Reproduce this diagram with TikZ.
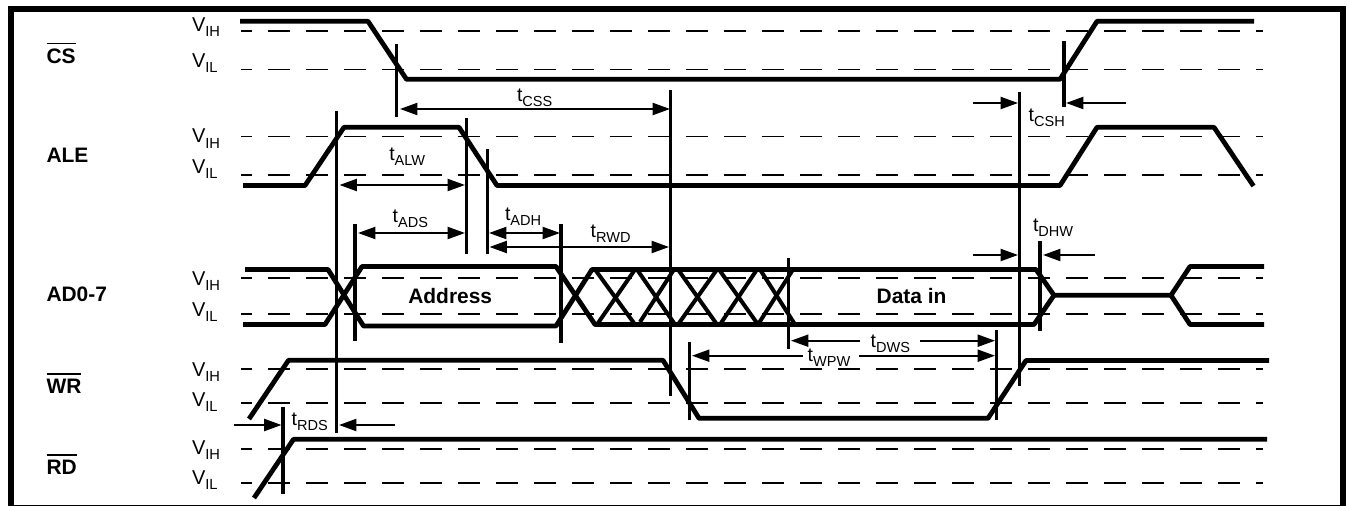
\documentclass[tikz,border=0pt]{standalone}
\usepackage{fontspec}
\setmainfont{Liberation Sans}
\usetikzlibrary{arrows.meta}
\newcommand{\VV}[1]{{\fontsize{15pt}{16pt}\selectfont V\raisebox{-3.75pt}{\fontsize{11pt}{12pt}\selectfont #1}}}
\newcommand{\TT}[1]{{\fontsize{14.6pt}{16pt}\selectfont t\raisebox{-3.75pt}{\fontsize{10.9pt}{12pt}\selectfont #1}}}
\newcommand{\BB}[1]{{\fontsize{15.7pt}{17pt}\selectfont\bfseries #1}}
\newcommand{\OB}[1]{{\fontsize{15.7pt}{17pt}\selectfont\bfseries\setbox0=\hbox{#1}\rlap{\raisebox{14.1pt}{\rule{\wd0}{1.1pt}}}\box0}}
\tikzset{
  sigline/.style={line width=3.6pt,line join=round},
  hatchline/.style={line width=3pt},
  refdash/.style={line width=0.95pt,dash pattern=on 16.5pt off 12pt,dash phase=8.25pt},
  tick/.style={line width=2.4pt},
  framebar/.style={fill=black,draw=none},
  dimarrow/.style={line width=1.5pt,-{Stealth[length=13pt,width=9pt,inset=0pt]}},
  dimboth/.style={line width=1.5pt,{Stealth[length=13pt,width=9pt,inset=0pt]}-{Stealth[length=13pt,width=9pt,inset=0pt]}},
  lbl/.style={anchor=base west,inner sep=0pt,outer sep=0pt},
}
\begin{document}
\begin{tikzpicture}[x=0.75pt,y=-0.75pt]
\useasboundingbox (0,0) rectangle (1348,506);
% frame
\fill[framebar] (8,6) rectangle (1346,12);
\fill[framebar] (8,6) rectangle (14,506);
\fill[framebar] (1340,6) rectangle (1346,506);
\draw[line width=0.8pt] (8,505.4) -- (1346,505.4);
% reference levels
\foreach \yy in {31,69.5,136.5,175,278,314,369,403,449,483}
  \draw[refdash] (241,\yy) -- (1263,\yy);
% signals
\draw[sigline] (240,21.3) -- (368,21.3) -- (406.5,79.3) -- (1060,79.3) -- (1097,21.3) -- (1254,21.3);
\draw[sigline] (243,185.5) -- (305,185.5) -- (344,127.3) -- (459,127.3) -- (497,185.5) -- (1060,185.5) -- (1097,127.3) -- (1214,127.3) -- (1253.5,186);
\draw[sigline] (245,269.5) -- (328,269.5) -- (363.5,326) -- (556,326) -- (592,269.5) -- (1036,269.5) -- (1054,295.3) -- (1171,295.3) -- (1190,266.5) -- (1264,266.5);
\draw[sigline] (243,324.5) -- (325,324.5) -- (362,266.5) -- (556,266.5) -- (595,324.5) -- (1034,324.5) -- (1054,295.3);
\draw[sigline] (1171,295.3) -- (1190,324.5) -- (1264,324.5);
\draw[sigline] (249,419) -- (288.5,360.3) -- (663,360.3) -- (699,418.3) -- (988,418.3) -- (1026,360.5) -- (1269,360.5);
\draw[sigline] (254,498) -- (293.5,439.3) -- (1267,439.3);
% undefined-data hatching
\draw[hatchline] (595,269.5) -- (635,324.5);
\draw[hatchline] (597,324.5) -- (635,269.5);
\draw[hatchline] (637,269.5) -- (675,324.5);
\draw[hatchline] (640,322) -- (674,269.5);
\draw[hatchline] (678,269.5) -- (717,324.5);
\draw[hatchline] (678,324.5) -- (717,269.5);
\draw[hatchline] (719,269.5) -- (758,324.5);
\draw[hatchline] (720,324.5) -- (757,269.5);
\draw[hatchline] (760,269.5) -- (795,324.5);
\draw[hatchline] (758,324.5) -- (793,269.5);
% timing reference ticks
\foreach \nm/\xx/\ya/\yb in {a/283/407/494,b/336.5/111/433,c/355/224/341,d/396.5/44/117,e/466.5/118/254,f/487.5/149/254,g/561/224/343,h/670.5/90/396,i/689.5/342/420,j/788.5/258/349,k/996.5/330/420,l/1019.5/92/386,m/1040/241/331,n/1064/41/107}{
  \coordinate (tick\nm top) at (\xx,\ya);
  \coordinate (tick\nm bot) at (\xx,\yb);
  \draw[tick] (tick\nm top) -- (tick\nm bot);
}
% dimension arrow ends
\coordinate (cssA) at (400,109);   \coordinate (cssB) at (670,109);
\coordinate (alwA) at (339.5,185); \coordinate (alwB) at (465,185);
\coordinate (adsA) at (358,233);   \coordinate (adsB) at (465,233);
\coordinate (adhA) at (489,233);   \coordinate (adhB) at (560,233);
\coordinate (rwdA) at (489.5,247); \coordinate (rwdB) at (669,247);
\coordinate (cshA) at (973,103);   \coordinate (cshB) at (1018,103);
\coordinate (cshC) at (1126,103);  \coordinate (cshD) at (1066,103);
\coordinate (dhwA) at (973,255);   \coordinate (dhwB) at (1018,255);
\coordinate (dhwC) at (1095,255);  \coordinate (dhwD) at (1043,255);
\coordinate (dwsA) at (860,340.7); \coordinate (dwsB) at (791,340.7);
\coordinate (dwsC) at (920,340.7); \coordinate (dwsD) at (995,340.7);
\coordinate (wpwA) at (803,355.7); \coordinate (wpwB) at (692,355.7);
\coordinate (wpwC) at (859,355.7); \coordinate (wpwD) at (995,355.7);
\coordinate (rdsA) at (234,425);   \coordinate (rdsB) at (281.5,425);
\coordinate (rdsC) at (395,425);   \coordinate (rdsD) at (339,425);
\draw[dimboth] (cssA) -- (cssB);
\draw[dimboth] (alwA) -- (alwB);
\draw[dimboth] (adsA) -- (adsB);
\draw[dimboth] (adhA) -- (adhB);
\draw[dimboth] (rwdA) -- (rwdB);
\draw[dimarrow] (cshA) -- (cshB);
\draw[dimarrow] (cshC) -- (cshD);
\draw[dimarrow] (dhwA) -- (dhwB);
\draw[dimarrow] (dhwC) -- (dhwD);
\draw[dimarrow] (dwsA) -- (dwsB);
\draw[dimarrow] (dwsC) -- (dwsD);
\draw[dimarrow] (wpwA) -- (wpwB);
\draw[dimarrow] (wpwC) -- (wpwD);
\draw[dimarrow] (rdsA) -- (rdsB);
\draw[dimarrow] (rdsC) -- (rdsD);
% signal names
\node[lbl] (nCS) at (46.5,63.3) {\OB{CS}};
\node[lbl] (nALE) at (46.5,162.7) {\BB{ALE}};
\node[lbl] (nAD) at (46.5,301) {\BB{AD0-7}};
\node[lbl] (nWR) at (46.5,393.3) {\OB{WR}};
\node[lbl] (nRD) at (46.5,474.3) {\OB{RD}};
% levels
\node[lbl] (v1) at (192,31.7) {\VV{IH}};
\node[lbl] (v2) at (192,67.7) {\VV{IL}};
\node[lbl] (v3) at (192,143) {\VV{IH}};
\node[lbl] (v4) at (192,173.5) {\VV{IL}};
\node[lbl] (v5) at (192,285.7) {\VV{IH}};
\node[lbl] (v6) at (192,316.7) {\VV{IL}};
\node[lbl] (v7) at (192,376) {\VV{IH}};
\node[lbl] (v8) at (192,406.7) {\VV{IL}};
\node[lbl] (v9) at (192,454) {\VV{IH}};
\node[lbl] (v10) at (192,484) {\VV{IL}};
% timings
\node[lbl] (tcss) at (517,101.7) {\TT{CSS}};
\node[lbl] (talw) at (389.3,160.7) {\TT{ALW}};
\node[lbl] (tads) at (392.7,222.7) {\TT{ADS}};
\node[lbl] (tadh) at (505,220) {\TT{ADH}};
\node[lbl] (trwd) at (590.7,237.3) {\TT{RWD}};
\node[lbl] (tcsh) at (1028.7,121.7) {\TT{CSH}};
\node[lbl] (tdhw) at (1033,231.7) {\TT{DHW}};
\node[lbl] (trds) at (291.7,425) {\TT{RDS}};
\node[lbl] (tdws) at (870.7,347.3) {\TT{DWS}};
\node[lbl] (twpw) at (807.7,361.7) {\TT{WPW}};
% bus contents
\node[lbl] (addr) at (408.3,303) {\BB{Address}};
\node[lbl] (datain) at (876.7,303) {\BB{Data in}};
\end{tikzpicture}
\end{document}
